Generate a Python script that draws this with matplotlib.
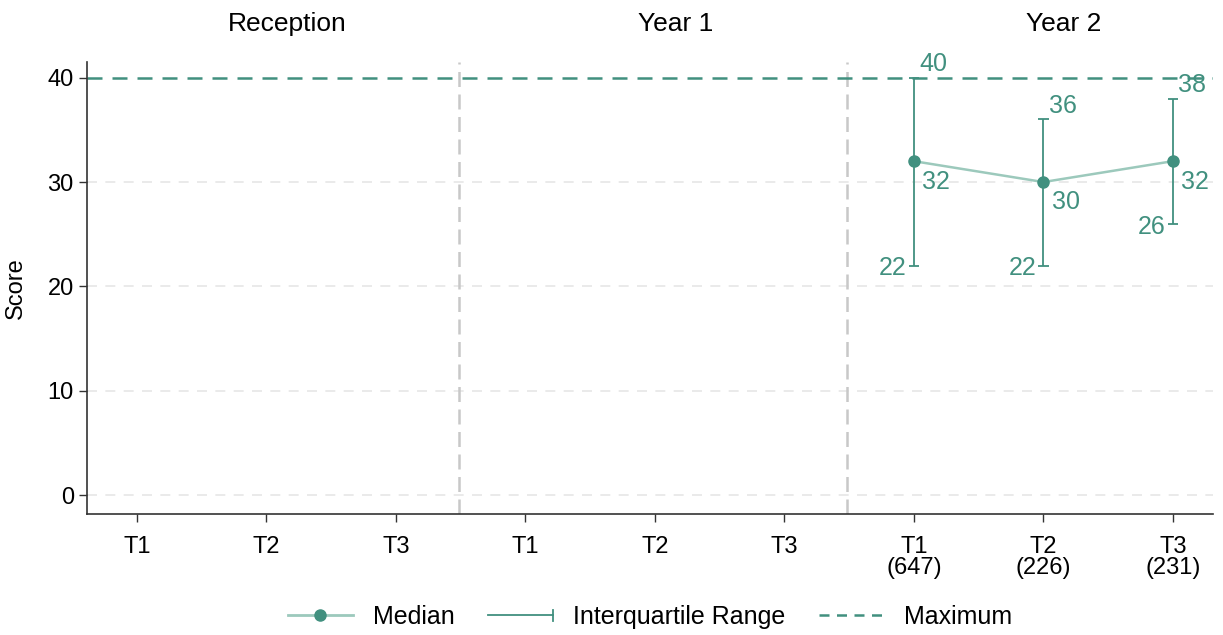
import matplotlib
matplotlib.use("Agg")
import matplotlib.pyplot as plt
from matplotlib.lines import Line2D
from matplotlib.legend_handler import HandlerBase
import numpy as np

plt.rcParams['font.family'] = ['Liberation Sans', 'DejaVu Sans']

groups = ["Reception", "Year 1", "Year 2"]
terms = ["T1", "T2", "T3"]
counts = ["647", "226", "231"]          # Year 2 sample sizes
median = [32, 30, 32]                   # Year 2 medians
q1 = [22, 22, 26]
q3 = [40, 36, 38]
maximum = 40

teal = '#41907f'
light = '#9cc9bc'


class RightCapHandler(HandlerBase):
    def create_artists(self, legend, orig, xdescent, ydescent, width, height,
                       fontsize, trans):
        y = height / 2 - ydescent
        x0, x1 = -xdescent, width - xdescent
        line = Line2D([x0, x1], [y, y], color=teal, lw=1.3, transform=trans)
        cap = Line2D([x1, x1], [y - 4, y + 4], color=teal, lw=1.3, transform=trans)
        return [line, cap]


fig = plt.figure(figsize=(12.23, 6.35), dpi=100)
ax = fig.add_axes([87/1223, 1-514/635, (1213-87)/1223, (514-62)/635])

xpos = np.arange(9)
y2x = xpos[6:9]

ax.set_xlim(-0.385, 8.31)
ax.set_ylim(-1.8, 41.5)

for y in [0, 10, 20, 30]:
    ax.axhline(y, color='#e6e6e6', lw=1.2, ls=(0, (6, 5)), zorder=0)
ax.axhline(maximum, color=teal, lw=1.8, ls=(0, (6, 4)), zorder=1)
for xs in [2.49, 5.48]:
    ax.axvline(xs, color='#c8c8c8', lw=1.8, ls=(0, (6, 3)), zorder=0)

ax.vlines(y2x, q1, q3, color=teal, lw=1.3, zorder=2)
ax.hlines(q1, y2x - 0.04, y2x + 0.04, color=teal, lw=1.3, zorder=2)
ax.hlines(q3, y2x - 0.04, y2x + 0.04, color=teal, lw=1.3, zorder=2)
ax.plot(y2x, median, color=light, lw=1.8, zorder=3)
ax.plot(y2x, median, 'o', color=teal, ms=8, zorder=4)

fs = 18
for x, m, lo, hi in zip(y2x, median, q1, q3):
    ax.annotate(str(m), (x, m), xytext=(6, -6), textcoords='offset points',
                ha='left', va='top', color=teal, fontsize=fs)
    ax.annotate(str(hi), (x, hi), xytext=(4, 1), textcoords='offset points',
                ha='left', va='bottom', color=teal, fontsize=fs)
    ax.annotate(str(lo), (x, lo), xytext=(-5, -2), textcoords='offset points',
                ha='right', va='center', color=teal, fontsize=fs)

labels = terms + terms + [f"{t}\n({c})" for t, c in zip(terms, counts)]
ax.set_xticks(xpos)
ax.set_xticklabels(labels, fontsize=17, va='top', linespacing=0.95)
ax.set_yticks([0, 10, 20, 30, 40])
ax.tick_params(axis='both', labelsize=17, length=6, width=1, color='#333333')
ax.tick_params(axis='x', pad=10)
ax.set_ylabel("Score", fontsize=17, labelpad=15)

for s in ['top', 'right']:
    ax.spines[s].set_visible(False)
for s in ['left', 'bottom']:
    ax.spines[s].set_color('#333333')
    ax.spines[s].set_linewidth(1.2)

for i, g in enumerate(groups):
    ax.text(3*i + 1.16, 1.058, g, transform=ax.get_xaxis_transform(),
            ha='center', va='bottom', fontsize=19)

handles = [
    Line2D([0], [0], color=light, lw=2, marker='o', markerfacecolor=teal,
           markeredgecolor=teal, ms=8),
    Line2D([0], [0], color=teal, lw=1.3),
    Line2D([0], [0], color=teal, lw=1.8, ls=(0, (4, 3))),
]
fig.legend(handles, ["Median", "Interquartile Range", "Maximum"],
           handler_map={handles[1]: RightCapHandler()},
           loc='center', bbox_to_anchor=(650/1223, 1-617/635), ncol=3,
           frameon=False, fontsize=18, handlelength=2.6, columnspacing=1.35,
           handletextpad=0.8)

fig.savefig("out.png", dpi=100)
